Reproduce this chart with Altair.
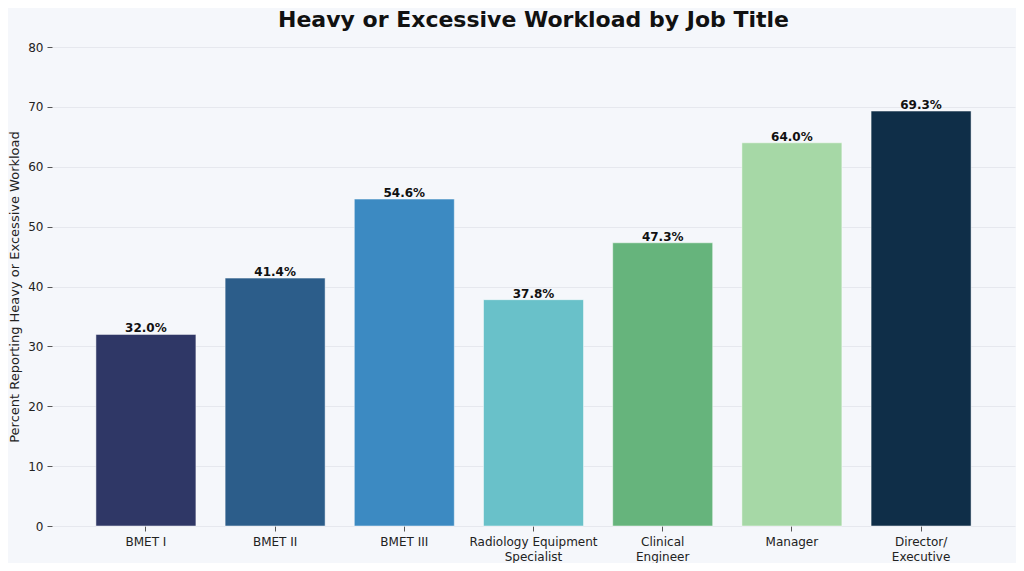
import altair as alt
import pandas as pd

categories = ["BMET I", "BMET II", "BMET III", "Radiology Equipment\nSpecialist",
              "Clinical\nEngineer", "Manager", "Director/\nExecutive"]
values = [32.0, 41.4, 54.6, 37.8, 47.3, 64.0, 69.3]
colors = ["#2f3766", "#2c5d8a", "#3c8ac2", "#69c1c9", "#66b47c", "#a6d8a6", "#0f2e48"]
y_ticks = [0, 10, 20, 30, 40, 50, 60, 70, 80]

df = pd.DataFrame({"cat": categories, "val": values,
                   "label": [f"{v:.1f}%" for v in values]})

FONT = "DejaVu Sans"

x = alt.X("cat:N", sort=categories, title=None,
          scale=alt.Scale(paddingInner=0.226, paddingOuter=0.34),
          axis=alt.Axis(labelAngle=0, labelExpr="split(datum.value, '\\n')",
                        labelFontSize=12, labelColor="#222", labelFont=FONT,
                        tickColor="#555", tickSize=5, labelPadding=5,
                        domain=False, grid=False, labelLineHeight=15))
y = alt.Y("val:Q", title="Percent Reporting Heavy or Excessive Workload",
          scale=alt.Scale(domain=[0, 80], nice=False),
          axis=alt.Axis(values=y_ticks, labelFontSize=12, labelColor="#222",
                        labelFont=FONT, tickColor="#555", tickSize=5,
                        domain=False, gridColor="#e6e8ee", gridWidth=1,
                        titleFontSize=13, titleFont=FONT, titleFontWeight="normal",
                        titleColor="#222", titlePadding=6, labelPadding=4))

bars = alt.Chart(df).mark_bar(stroke="white", strokeWidth=0.8, strokeOpacity=0.6).encode(
    x=x, y=y,
    color=alt.Color("cat:N", sort=categories,
                    scale=alt.Scale(domain=categories, range=colors), legend=None))

text = alt.Chart(df).mark_text(baseline="bottom", dy=1, fontSize=12,
                               fontWeight="bold", font=FONT, color="#111").encode(
    x=alt.X("cat:N", sort=categories), y="val:Q", text="label:N")

chart = alt.layer(bars, text).properties(
    width=963, height=479,
    autosize=alt.AutoSizeParams(type="none"),
    padding={"left": 44, "top": 39, "right": 1, "bottom": 37},
    background="#f5f7fb",
    title=alt.TitleParams("Heavy or Excessive Workload by Job Title",
                          fontSize=22, fontWeight="bold", font=FONT,
                          color="#111", anchor="middle", offset=9),
).configure_view(stroke=None)

chart.save("out.html", embed_options={"renderer": "svg", "actions": False})
